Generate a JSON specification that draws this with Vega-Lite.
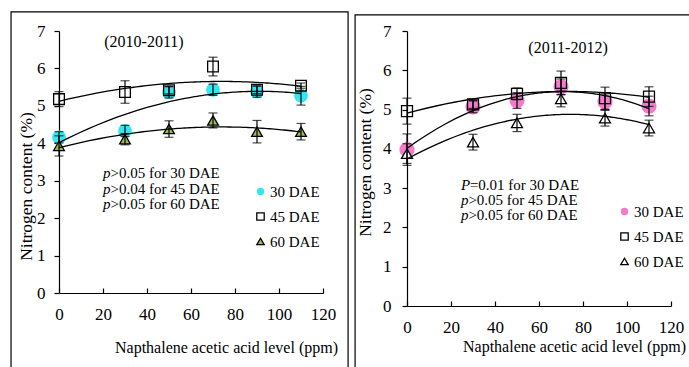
{
  "$schema": "https://vega.github.io/schema/vega-lite/v6.json",
  "padding": {"left": 10, "top": 11, "right": 0, "bottom": 0},
  "spacing": 5,
  "config": {
    "font": "Liberation Serif",
    "view": {"stroke": null},
    "axis": {"labelFont": "Liberation Serif", "labelFontSize": 17, "labelColor": "black", "titleFont": "Liberation Serif", "titleFontWeight": "normal", "titleColor": "black", "domainColor": "black", "tickColor": "black", "grid": false, "domainWidth": 1.2, "tickWidth": 1.2, "labelFlush": false, "labelOverlap": false},
    "legend": {"labelFont": "Liberation Serif", "labelFontSize": 15, "labelColor": "black", "symbolSize": 55, "symbolStrokeWidth": 1.3, "labelOffset": 2}
  },
  "datasets": {
    "pts": [
      {"period": "2010-2011", "level": 0, "dae": "30 DAE", "n": 4.16, "err": 0.15},
      {"period": "2010-2011", "level": 30, "dae": "30 DAE", "n": 4.33, "err": 0.15},
      {"period": "2010-2011", "level": 50, "dae": "30 DAE", "n": 5.36, "err": 0.15},
      {"period": "2010-2011", "level": 70, "dae": "30 DAE", "n": 5.43, "err": 0.15},
      {"period": "2010-2011", "level": 90, "dae": "30 DAE", "n": 5.38, "err": 0.15},
      {"period": "2010-2011", "level": 110, "dae": "30 DAE", "n": 5.27, "err": 0.25},
      {"period": "2010-2011", "level": 0, "dae": "45 DAE", "n": 5.18, "err": 0.2},
      {"period": "2010-2011", "level": 30, "dae": "45 DAE", "n": 5.37, "err": 0.3},
      {"period": "2010-2011", "level": 50, "dae": "45 DAE", "n": 5.42, "err": 0.1},
      {"period": "2010-2011", "level": 70, "dae": "45 DAE", "n": 6.05, "err": 0.25},
      {"period": "2010-2011", "level": 90, "dae": "45 DAE", "n": 5.43, "err": 0.1},
      {"period": "2010-2011", "level": 110, "dae": "45 DAE", "n": 5.54, "err": 0.07},
      {"period": "2010-2011", "level": 0, "dae": "60 DAE", "n": 3.93, "err": 0.27},
      {"period": "2010-2011", "level": 30, "dae": "60 DAE", "n": 4.11, "err": 0.15},
      {"period": "2010-2011", "level": 50, "dae": "60 DAE", "n": 4.38, "err": 0.22},
      {"period": "2010-2011", "level": 70, "dae": "60 DAE", "n": 4.61, "err": 0.2},
      {"period": "2010-2011", "level": 90, "dae": "60 DAE", "n": 4.31, "err": 0.3},
      {"period": "2010-2011", "level": 110, "dae": "60 DAE", "n": 4.31, "err": 0.22},
      {"period": "2011-2012", "level": 0, "dae": "30 DAE", "n": 3.98, "err": 0.4},
      {"period": "2011-2012", "level": 30, "dae": "30 DAE", "n": 5.07, "err": 0.15},
      {"period": "2011-2012", "level": 50, "dae": "30 DAE", "n": 5.23, "err": 0.2},
      {"period": "2011-2012", "level": 70, "dae": "30 DAE", "n": 5.58, "err": 0.2},
      {"period": "2011-2012", "level": 90, "dae": "30 DAE", "n": 5.2, "err": 0.2},
      {"period": "2011-2012", "level": 110, "dae": "30 DAE", "n": 5.09, "err": 0.25},
      {"period": "2011-2012", "level": 0, "dae": "45 DAE", "n": 4.96, "err": 0.33},
      {"period": "2011-2012", "level": 30, "dae": "45 DAE", "n": 5.13, "err": 0.1},
      {"period": "2011-2012", "level": 50, "dae": "45 DAE", "n": 5.4, "err": 0.15},
      {"period": "2011-2012", "level": 70, "dae": "45 DAE", "n": 5.68, "err": 0.3},
      {"period": "2011-2012", "level": 90, "dae": "45 DAE", "n": 5.29, "err": 0.28},
      {"period": "2011-2012", "level": 110, "dae": "45 DAE", "n": 5.33, "err": 0.25},
      {"period": "2011-2012", "level": 0, "dae": "60 DAE", "n": 3.88, "err": 0.25},
      {"period": "2011-2012", "level": 30, "dae": "60 DAE", "n": 4.17, "err": 0.2},
      {"period": "2011-2012", "level": 50, "dae": "60 DAE", "n": 4.66, "err": 0.22},
      {"period": "2011-2012", "level": 70, "dae": "60 DAE", "n": 5.27, "err": 0.2},
      {"period": "2011-2012", "level": 90, "dae": "60 DAE", "n": 4.78, "err": 0.2},
      {"period": "2011-2012", "level": 110, "dae": "60 DAE", "n": 4.53, "err": 0.2}
    ]
  },
  "resolve": {
    "scale": {"x": "independent", "y": "independent", "fill": "independent", "stroke": "independent", "shape": "independent"}
  },
  "hconcat": [
    {
      "width": 264,
      "height": 262,
      "layer": [
        {
          "encoding": {
            "x": {"field": "level", "type": "quantitative", "title": "Napthalene acetic acid level (ppm)", "scale": {"domain": [0, 120], "nice": false},
              "axis": {"title": "Napthalene acetic acid level (ppm)", "values": [0, 20, 40, 60, 80, 100, 120], "tickCount": 7, "labelOverlap": false, "tickSize": -5, "labelPadding": 18, "titleFontSize": 16, "titleX": 167, "titleY": 54, "titleAlign": "center", "titleBaseline": "middle"}},
            "y": {"field": "n", "type": "quantitative", "title": "Nitrogen content (%)", "scale": {"domain": [0, 7], "nice": false, "zero": true},
              "axis": {"title": "Nitrogen content (%)", "values": [0, 1, 2, 3, 4, 5, 6, 7], "tickCount": 8, "labelOverlap": false, "tickSize": 5, "labelPadding": 9, "titleFontSize": 17.5, "titleX": -33, "titleY": 155, "titleAlign": "center", "titleBaseline": "middle", "titleAngle": -90}}
          },
          "layer": [
            {
              "data": {"name": "pts"},
              "transform": [{"filter": "datum.period === '2010-2011' && datum.dae === '30 DAE'"}],
              "mark": {"type": "point", "filled": true, "opacity": 1, "strokeWidth": 1.3, "size": 190},
              "encoding": {
                "shape": {"field": "dae", "type": "nominal", "scale": {"domain": ["30 DAE", "45 DAE", "60 DAE"], "range": ["circle", "square", "triangle-up"]},
                  "legend": {"title": null, "orient": "none", "legendX": 194, "legendY": 153, "rowPadding": 9}},
                "fill": {"field": "dae", "type": "nominal", "scale": {"domain": ["30 DAE", "45 DAE", "60 DAE"], "range": ["#33E6F0", "transparent", "#9BBB59"]},
                  "legend": {"title": null, "orient": "none", "legendX": 194, "legendY": 153, "rowPadding": 9}},
                "stroke": {"field": "dae", "type": "nominal", "scale": {"domain": ["30 DAE", "45 DAE", "60 DAE"], "range": ["transparent", "black", "black"]},
                  "legend": {"title": null, "orient": "none", "legendX": 194, "legendY": 153, "rowPadding": 9}}
              }
            },
            {
              "data": {"name": "pts"},
              "transform": [{"filter": "datum.period === '2010-2011' && datum.dae !== '30 DAE'"}],
              "mark": {"type": "point", "filled": true, "opacity": 1, "strokeWidth": 1.3, "size": 115},
              "encoding": {
                "shape": {"field": "dae", "type": "nominal", "scale": {"domain": ["30 DAE", "45 DAE", "60 DAE"], "range": ["circle", "square", "triangle-up"]},
                  "legend": {"title": null, "orient": "none", "legendX": 194, "legendY": 153, "rowPadding": 9}},
                "fill": {"field": "dae", "type": "nominal", "scale": {"domain": ["30 DAE", "45 DAE", "60 DAE"], "range": ["#33E6F0", "transparent", "#9BBB59"]},
                  "legend": {"title": null, "orient": "none", "legendX": 194, "legendY": 153, "rowPadding": 9}},
                "stroke": {"field": "dae", "type": "nominal", "scale": {"domain": ["30 DAE", "45 DAE", "60 DAE"], "range": ["transparent", "black", "black"]},
                  "legend": {"title": null, "orient": "none", "legendX": 194, "legendY": 153, "rowPadding": 9}}
              }
            },
            {
              "data": {"name": "pts"},
              "transform": [
                {"filter": "datum.period === '2010-2011'"},
                {"regression": "n", "on": "level", "groupby": ["dae"], "method": "poly", "order": 2}
              ],
              "mark": {"type": "line", "color": "black", "strokeWidth": 1.3},
              "encoding": {"detail": {"field": "dae"}}
            },
            {
              "data": {"name": "pts"},
              "transform": [{"filter": "datum.period === '2010-2011'"}],
              "mark": {"type": "errorbar", "ticks": true, "size": 9, "thickness": 1.2, "color": "black"},
              "encoding": {"yError": {"field": "err"}}
            }
          ]
        },
        {
          "data": {"values": [{}]},
          "encoding": {
            "x": {"datum": 0, "title": "Napthalene acetic acid level (ppm)",
              "axis": {"title": "Napthalene acetic acid level (ppm)", "values": [0, 20, 40, 60, 80, 100, 120], "tickCount": 7, "labelOverlap": false, "tickSize": -5, "labelPadding": 18, "titleFontSize": 16, "titleX": 167, "titleY": 54, "titleAlign": "center", "titleBaseline": "middle"}},
            "y": {"datum": 0, "title": "Nitrogen content (%)",
              "axis": {"title": "Nitrogen content (%)", "values": [0, 1, 2, 3, 4, 5, 6, 7], "tickCount": 8, "labelOverlap": false, "tickSize": 5, "labelPadding": 9, "titleFontSize": 17.5, "titleX": -33, "titleY": 155, "titleAlign": "center", "titleBaseline": "middle", "titleAngle": -90}}
          },
          "layer": [
            {
              "mark": {"type": "rect", "fill": "transparent", "stroke": "black", "strokeWidth": 1.2},
              "encoding": {
                "x": {"datum": -21.8}, "x2": {"datum": 131.4},
                "y": {"datum": 7.51}, "y2": {"datum": -2.3}
              }
            },
            {
              "mark": {"type": "text", "fontSize": 16, "align": "center", "baseline": "middle", "color": "black"},
              "encoding": {"x": {"datum": 38.6}, "y": {"datum": 6.71}, "text": {"value": "(2010-2011)"}}
            },
            {
              "mark": {"type": "text", "fontSize": 15, "align": "left", "baseline": "alphabetic", "fontStyle": "italic", "lineHeight": 15.5, "color": "black"},
              "encoding": {"x": {"datum": 20}, "y": {"datum": 3.07}, "text": {"value": ["p", "p", "p"]}}
            },
            {
              "mark": {"type": "text", "fontSize": 15, "align": "left", "baseline": "alphabetic", "lineHeight": 15.5, "dx": 7.5, "color": "black"},
              "encoding": {"x": {"datum": 20}, "y": {"datum": 3.07}, "text": {"value": [">0.05 for 30 DAE", ">0.04 for 45 DAE", ">0.05 for 60 DAE"]}}
            }
          ]
        }
      ]
    },
    {
      "width": 264,
      "height": 275,
      "layer": [
        {
          "encoding": {
            "x": {"field": "level", "type": "quantitative", "title": "Napthalene acetic acid level (ppm)", "scale": {"domain": [0, 120], "nice": false},
              "axis": {"title": "Napthalene acetic acid level (ppm)", "values": [0, 20, 40, 60, 80, 100, 120], "tickCount": 7, "labelOverlap": false, "tickSize": -5, "labelPadding": 18, "titleFontSize": 16, "titleX": 167, "titleY": 40, "titleAlign": "center", "titleBaseline": "middle"}},
            "y": {"field": "n", "type": "quantitative", "title": "Nitrogen content (%)", "scale": {"domain": [0, 7], "nice": false, "zero": true},
              "axis": {"title": "Nitrogen content (%)", "values": [0, 1, 2, 3, 4, 5, 6, 7], "tickCount": 8, "labelOverlap": false, "tickSize": 5, "labelPadding": 11, "titleFontSize": 17.5, "titleX": -42, "titleY": 131, "titleAlign": "center", "titleBaseline": "middle", "titleAngle": -90}}
          },
          "layer": [
            {
              "data": {"name": "pts"},
              "transform": [{"filter": "datum.period === '2011-2012' && datum.dae === '30 DAE'"}],
              "mark": {"type": "point", "filled": true, "opacity": 1, "strokeWidth": 1.3, "size": 230},
              "encoding": {
                "shape": {"field": "dae", "type": "nominal", "scale": {"domain": ["30 DAE", "45 DAE", "60 DAE"], "range": ["circle", "square", "triangle-up"]},
                  "legend": {"title": null, "orient": "none", "legendX": 210, "legendY": 173, "rowPadding": 9}},
                "fill": {"field": "dae", "type": "nominal", "scale": {"domain": ["30 DAE", "45 DAE", "60 DAE"], "range": ["#F27CCB", "transparent", "white"]},
                  "legend": {"title": null, "orient": "none", "legendX": 210, "legendY": 173, "rowPadding": 9}},
                "stroke": {"field": "dae", "type": "nominal", "scale": {"domain": ["30 DAE", "45 DAE", "60 DAE"], "range": ["transparent", "black", "black"]},
                  "legend": {"title": null, "orient": "none", "legendX": 210, "legendY": 173, "rowPadding": 9}}
              }
            },
            {
              "data": {"name": "pts"},
              "transform": [{"filter": "datum.period === '2011-2012' && datum.dae !== '30 DAE'"}],
              "mark": {"type": "point", "filled": true, "opacity": 1, "strokeWidth": 1.3, "size": 120},
              "encoding": {
                "shape": {"field": "dae", "type": "nominal", "scale": {"domain": ["30 DAE", "45 DAE", "60 DAE"], "range": ["circle", "square", "triangle-up"]},
                  "legend": {"title": null, "orient": "none", "legendX": 210, "legendY": 173, "rowPadding": 9}},
                "fill": {"field": "dae", "type": "nominal", "scale": {"domain": ["30 DAE", "45 DAE", "60 DAE"], "range": ["#F27CCB", "transparent", "white"]},
                  "legend": {"title": null, "orient": "none", "legendX": 210, "legendY": 173, "rowPadding": 9}},
                "stroke": {"field": "dae", "type": "nominal", "scale": {"domain": ["30 DAE", "45 DAE", "60 DAE"], "range": ["transparent", "black", "black"]},
                  "legend": {"title": null, "orient": "none", "legendX": 210, "legendY": 173, "rowPadding": 9}}
              }
            },
            {
              "data": {"name": "pts"},
              "transform": [
                {"filter": "datum.period === '2011-2012'"},
                {"regression": "n", "on": "level", "groupby": ["dae"], "method": "poly", "order": 2}
              ],
              "mark": {"type": "line", "color": "black", "strokeWidth": 1.3},
              "encoding": {"detail": {"field": "dae"}}
            },
            {
              "data": {"name": "pts"},
              "transform": [{"filter": "datum.period === '2011-2012'"}],
              "mark": {"type": "errorbar", "ticks": true, "size": 9, "thickness": 1.2, "color": "black"},
              "encoding": {"yError": {"field": "err"}}
            }
          ]
        },
        {
          "data": {"values": [{}]},
          "encoding": {
            "x": {"datum": 0, "title": "Napthalene acetic acid level (ppm)",
              "axis": {"title": "Napthalene acetic acid level (ppm)", "values": [0, 20, 40, 60, 80, 100, 120], "tickCount": 7, "labelOverlap": false, "tickSize": -5, "labelPadding": 18, "titleFontSize": 16, "titleX": 167, "titleY": 40, "titleAlign": "center", "titleBaseline": "middle"}},
            "y": {"datum": 0, "title": "Nitrogen content (%)",
              "axis": {"title": "Nitrogen content (%)", "values": [0, 1, 2, 3, 4, 5, 6, 7], "tickCount": 8, "labelOverlap": false, "tickSize": 5, "labelPadding": 11, "titleFontSize": 17.5, "titleX": -42, "titleY": 131, "titleAlign": "center", "titleBaseline": "middle", "titleAngle": -90}}
          },
          "layer": [
            {
              "mark": {"type": "rect", "fill": "transparent", "stroke": "black", "strokeWidth": 1.2},
              "encoding": {
                "x": {"datum": -23.6}, "x2": {"datum": 131},
                "y": {"datum": 7.41}, "y2": {"datum": -2.2}
              }
            },
            {
              "mark": {"type": "text", "fontSize": 16, "align": "center", "baseline": "middle", "color": "black"},
              "encoding": {"x": {"datum": 73.2}, "y": {"datum": 6.57}, "text": {"value": "(2011-2012)"}}
            },
            {
              "mark": {"type": "text", "fontSize": 15, "align": "left", "baseline": "alphabetic", "fontStyle": "italic", "color": "black"},
              "encoding": {"x": {"datum": 24.5}, "y": {"datum": 2.95}, "text": {"value": "P"}}
            },
            {
              "mark": {"type": "text", "fontSize": 15, "align": "left", "baseline": "alphabetic", "dx": 9, "color": "black"},
              "encoding": {"x": {"datum": 24.5}, "y": {"datum": 2.95}, "text": {"value": "=0.01 for 30 DAE"}}
            },
            {
              "mark": {"type": "text", "fontSize": 15, "align": "left", "baseline": "alphabetic", "fontStyle": "italic", "lineHeight": 15, "color": "black"},
              "encoding": {"x": {"datum": 24.5}, "y": {"datum": 2.57}, "text": {"value": ["p", "p"]}}
            },
            {
              "mark": {"type": "text", "fontSize": 15, "align": "left", "baseline": "alphabetic", "lineHeight": 15, "dx": 7.5, "color": "black"},
              "encoding": {"x": {"datum": 24.5}, "y": {"datum": 2.57}, "text": {"value": [">0.05 for 45 DAE", ">0.05 for 60 DAE"]}}
            }
          ]
        }
      ]
    }
  ]
}
